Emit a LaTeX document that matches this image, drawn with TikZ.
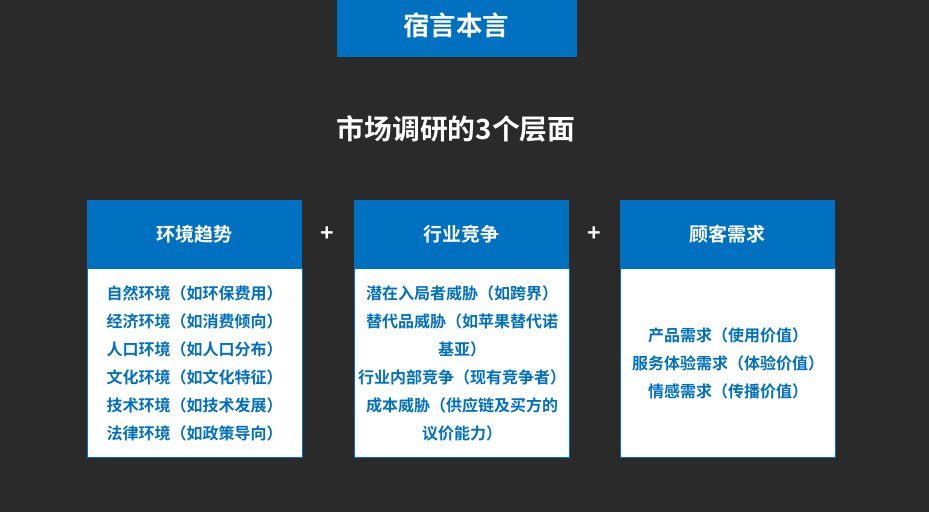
\documentclass[tikz,border=0pt]{standalone}
\usepackage{fontspec}
\setmainfont{Noto Sans CJK SC}[BoldFont = * Bold]
\definecolor{bg}{HTML}{2A2A2A}
\definecolor{pblue}{HTML}{0070C0}
\begin{document}
\begin{tikzpicture}[x=1pt,y=-1pt,
  hdr/.style={fill=pblue,draw=none},
  bodybox/.style={fill=white,draw=pblue,line width=1pt},
  hdrtext/.style={text=white,font=\fontsize{19}{22}\selectfont\bfseries,inner sep=0pt},
  bodytext/.style={text=pblue,font=\fontsize{16}{28}\selectfont\bfseries,align=center,inner sep=0pt},
  plus/.style={text=white,font=\fontsize{23}{24}\selectfont\bfseries,inner sep=0pt}]
\fill[bg] (0,0) rectangle (929,512);
\useasboundingbox (0,0) rectangle (929,512);
% banner
\fill[pblue] (337,0) rectangle (577,57);
\node[text=white,font=\fontsize{26.5}{30}\selectfont\bfseries,inner sep=0pt] (banner) at (456,25.5) {宿言本言};
% title
\node[text=white,font=\fontsize{27.8}{30}\selectfont\bfseries,inner sep=0pt] (title) at (456,128.5) {市场调研的3个层面};
% boxes
\foreach \x/\n in {87/a,354/b,620/c}{
  \fill[pblue] (\x,200) rectangle ++(215,68);
  \draw[bodybox] (\x+0.5,268) rectangle (\x+215.5,457);
}
\node[hdrtext] (ha) at (194.5,234.5) {环境趋势};
\node[hdrtext] (hb) at (461.5,234.5) {行业竞争};
\node[hdrtext] (hc) at (727.5,234.5) {顾客需求};
\node[plus] (p1) at (327,234) {+};
\node[plus] (p2) at (594,234) {+};
\node[bodytext] (ba) at (194.5,363) {自然环境（如环保费用）\\经济环境（如消费倾向）\\人口环境（如人口分布）\\文化环境（如文化特征）\\技术环境（如技术发展）\\法律环境（如政策导向）};
\node[bodytext] (bb) at (462,363) {潜在入局者威胁（如跨界）\\替代品威胁（如苹果替代诺\\基亚）\\行业内部竞争（现有竞争者）\\成本威胁（供应链及买方的\\议价能力）};
\node[bodytext] (bc) at (728,363) {产品需求（使用价值）\\服务体验需求（体验价值）\\情感需求（传播价值）};
\end{tikzpicture}
\end{document}
